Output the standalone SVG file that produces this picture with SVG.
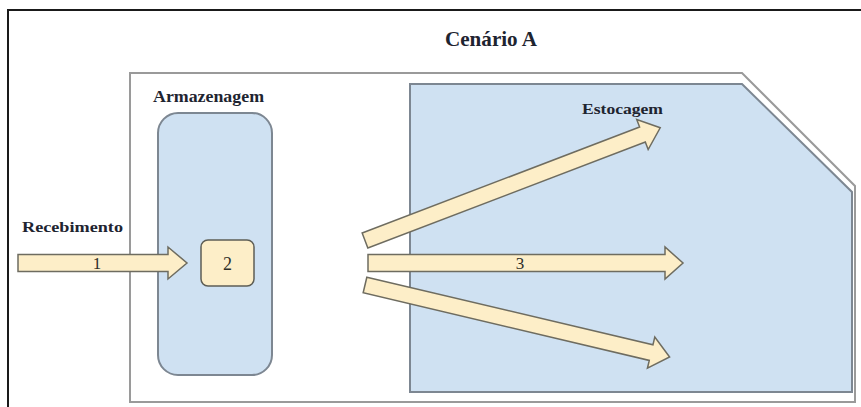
<svg xmlns="http://www.w3.org/2000/svg" width="861" height="407" viewBox="0 0 861 407">
<style>
.lbl{font-family:"Liberation Serif","Times New Roman",serif;font-weight:bold;fill:#1e2430}
.num{font-family:"Liberation Serif","Times New Roman",serif;fill:#2e2e28;text-anchor:middle}
.arrow{fill:#fdeec8;stroke:#6e6c60;stroke-width:1.5;stroke-linejoin:miter}
.blue{fill:#cfe1f2;stroke:#7d8792;stroke-width:2}
</style>
<rect width="861" height="407" fill="#ffffff"/>
<g id="frame">
<rect x="8" y="10" width="870" height="420" fill="none" stroke="#1a1a1a" stroke-width="2"/>
<text class="lbl" x="491" y="46" font-size="21" text-anchor="middle" textLength="92" lengthAdjust="spacingAndGlyphs">Cenário A</text>
</g>
<g id="scenario-area">
<polygon points="130,73 742,73 855,186 855,402 130,402" fill="#ffffff" stroke="#9a9a9a" stroke-width="2"/>
</g>
<g id="estocagem">
<polygon class="blue" points="410,84 742,84 852,192 852,392 410,392"/>
<text class="lbl" x="582" y="114" font-size="15" textLength="81" lengthAdjust="spacingAndGlyphs">Estocagem</text>
</g>
<g id="armazenagem">
<text class="lbl" x="153" y="102" font-size="16" textLength="111" lengthAdjust="spacingAndGlyphs">Armazenagem</text>
<rect class="blue" x="158" y="113" width="114" height="262" rx="20"/>
</g>
<g id="node-2">
<rect x="201" y="240" width="53" height="46" rx="7" fill="#fdeec8" stroke="#5e5e55" stroke-width="1.5"/>
<text class="num" x="227.5" y="270" font-size="18">2</text>
</g>
<g id="recebimento">
<text class="lbl" x="22" y="232" font-size="15" textLength="101" lengthAdjust="spacingAndGlyphs">Recebimento</text>
</g>
<g id="connectors">
<polygon class="arrow" points="18,254.5 168,254.5 168,247 187,263 168,279 168,271.5 18,271.5"/>
<text class="num" x="97" y="269" font-size="17">1</text>
<polygon class="arrow" points="368,254.5 665,254.5 665,247 683,263 665,279 665,271.5 368,271.5"/>
<text class="num" x="520" y="269" font-size="17">3</text>
<g transform="translate(365,240.5) rotate(-20.9)">
<polygon class="arrow" points="0,-8 297,-8 297,-16 316,0 297,16 297,8 0,8"/>
</g>
<g transform="translate(365,285) rotate(13.3)">
<polygon class="arrow" points="0,-8 294,-8 294,-16 313,0 294,16 294,8 0,8"/>
</g>
</g>
</svg>
